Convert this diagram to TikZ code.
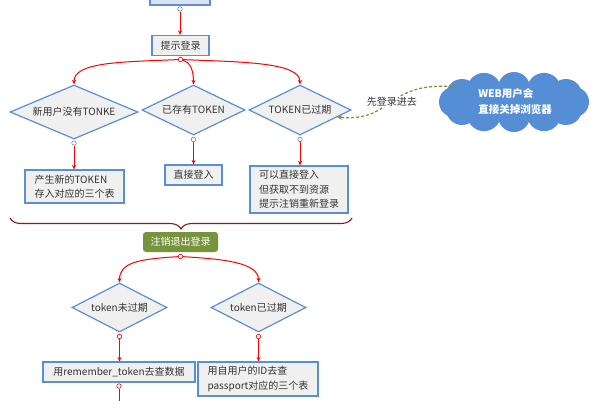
\documentclass[tikz,border=0pt]{standalone}
\usepackage{fontspec}
\setmainfont{Noto Sans CJK SC}
\usetikzlibrary{shapes.geometric,decorations.pathreplacing,arrows.meta,calc}
\definecolor{bblue}{HTML}{5B8FD5}
\definecolor{lgray}{HTML}{F0F0F0}
\definecolor{lblue}{HTML}{DAE3F3}
\definecolor{olivec}{HTML}{77933C}
\definecolor{cloudc}{HTML}{558ED5}
\definecolor{bracec}{HTML}{8B1A1A}
\definecolor{txt}{HTML}{333333}
\begin{document}
\begin{tikzpicture}[x=1pt,y=-1pt,
  every node/.style={font=\fontsize{10}{14.5}\selectfont, text=txt},
  box/.style={draw=bblue, line width=1.2pt, fill=lgray, inner sep=0pt, align=left},
  dia/.style={diamond, draw=bblue, line width=1.2pt, fill=lgray, inner sep=0pt},
  arr/.style={red, line width=1pt, -{Stealth[length=4.5pt,width=4pt]}},
  dot/.style={circle, draw=red, fill=white, line width=0.6pt, inner sep=0pt, minimum size=4.5pt},
  gdot/.style={dot, draw=bblue!60!gray},
  garr/.style={olivec, line width=1.2pt, dash pattern=on 3pt off 2pt, -{Stealth[length=5pt,width=4.5pt]}},
]
\useasboundingbox (0,0) rectangle (600,400);
\fill[white] (0,0) rectangle (600,400);

% boxes and decisions
\node[box, fill=lblue, minimum width=60pt, minimum height=25pt] (top) at (180,-7.5) {};
\node[box, minimum width=57pt, minimum height=20pt] (ts) at (180.5,45.5) {提示登录};
\node[dia, aspect=2.37, minimum width=128pt, minimum height=54pt] (d1) at (74,112) {新用户没有TONKE};
\node[dia, aspect=2.06, minimum width=103pt, minimum height=50pt] (d2) at (193.5,110) {已存有TOKEN};
\node[dia, aspect=2.04, minimum width=102pt, minimum height=50pt] (d3) at (300,110) {TOKEN已过期};
\node[box, minimum width=99pt, minimum height=33pt] (b1) at (74.5,186.5) {产生新的TOKEN\\存入对应的三个表};
\node[box, minimum width=57pt, minimum height=20pt] (b2) at (193.5,175) {直接登入};
\node[box, minimum width=98pt, minimum height=47pt] (b3) at (299,189.5) {可以直接登入\\但获取不到资源\\提示注销重新登录};

\coordinate (bl) at (10,218);
\coordinate (br) at (352,218);
\draw[bracec, line width=1.1pt, decorate, decoration={brace, mirror, amplitude=11pt}] (bl) -- (br);

\node[rounded corners=3pt, fill=olivec, text=white, minimum width=75pt, minimum height=20pt, inner sep=0pt] (zx) at (180.5,242) {注销退出登录};
\node[dia, aspect=1.94, minimum width=95pt, minimum height=49pt] (t1) at (119.5,307.5) {token未过期};
\node[dia, aspect=1.94, minimum width=95pt, minimum height=49pt] (t2) at (258.5,307.5) {token已过期};
\node[box, minimum width=152pt, minimum height=20pt] (r1) at (119,372) {用remember\_token去查数据};
\node[box, minimum width=120pt, minimum height=34pt] (r2) at (258,379) {用自用户的ID去查\\passport对应的三个表};

% cloud
\fill[cloudc] (514,102) ellipse [x radius=62pt, y radius=16pt];
\foreach \a/\r in {0/15,30/16,60/17,90/16,120/17,150/16,180/15,210/16,240/17,270/16,300/17,330/16}
  \fill[cloudc] ({514+60*cos(\a)},{102+14*sin(\a)}) circle [radius=\r pt];
\node[text=white, align=left, inner sep=0pt, font=\fontsize{10.5}{16}\selectfont\bfseries] (cl) at (515,101) {WEB用户会\\直接关掉浏览器};
\coordinate (cls) at (457,87);

% connectors
\node[gdot] (c0) at (180,9) {};
\draw[arr] (c0) -- (c0 |- ts.north);

\node[dot] (c1) at (180.5,59.5) {};
\draw[arr] (c1) .. controls (120,62) and (74,62) .. (d1.north);
\draw[arr] (c1) .. controls (190,62) and (193.5,70) .. (d2.north);
\draw[arr] (c1) .. controls (240,62) and (300,62) .. (d3.north);

\node[gdot] (c3) at (74,143) {};
\node[gdot] (c4) at (193.5,139.5) {};
\node[gdot] (c5) at (300,139.5) {};
\draw[arr] (c3) -- (c3 |- b1.north);
\draw[arr] (c4) -- (c4 |- b2.north);
\draw[arr] (c5) -- (c5 |- b3.north);

\node[dot] (c6) at (180.5,256.5) {};
\draw[arr] (c6) .. controls (140,259) and (119.5,262) .. (t1.north);
\draw[arr] (c6) .. controls (221,259) and (258.5,262) .. (t2.north);

\node[dot] (c7) at (119.5,336.5) {};
\node[dot] (c8) at (258.5,336.5) {};
\draw[arr] (c7) -- (c7 |- r1.north);
\draw[arr] (c8) -- (c8 |- r2.north);

\node[dot] (c9) at (119,386) {};
\coordinate (endp) at (119,410);
\draw[red, line width=1pt] (c9) -- (endp);

\coordinate (tipd) at ($(d3.east)!0.28!(d3.south)$);
\draw[garr] (cls) .. controls (385,80) and (395,122) ..
  node[fill=white, inner sep=1pt] {先登录进去} (tipd);
\end{tikzpicture}
\end{document}
